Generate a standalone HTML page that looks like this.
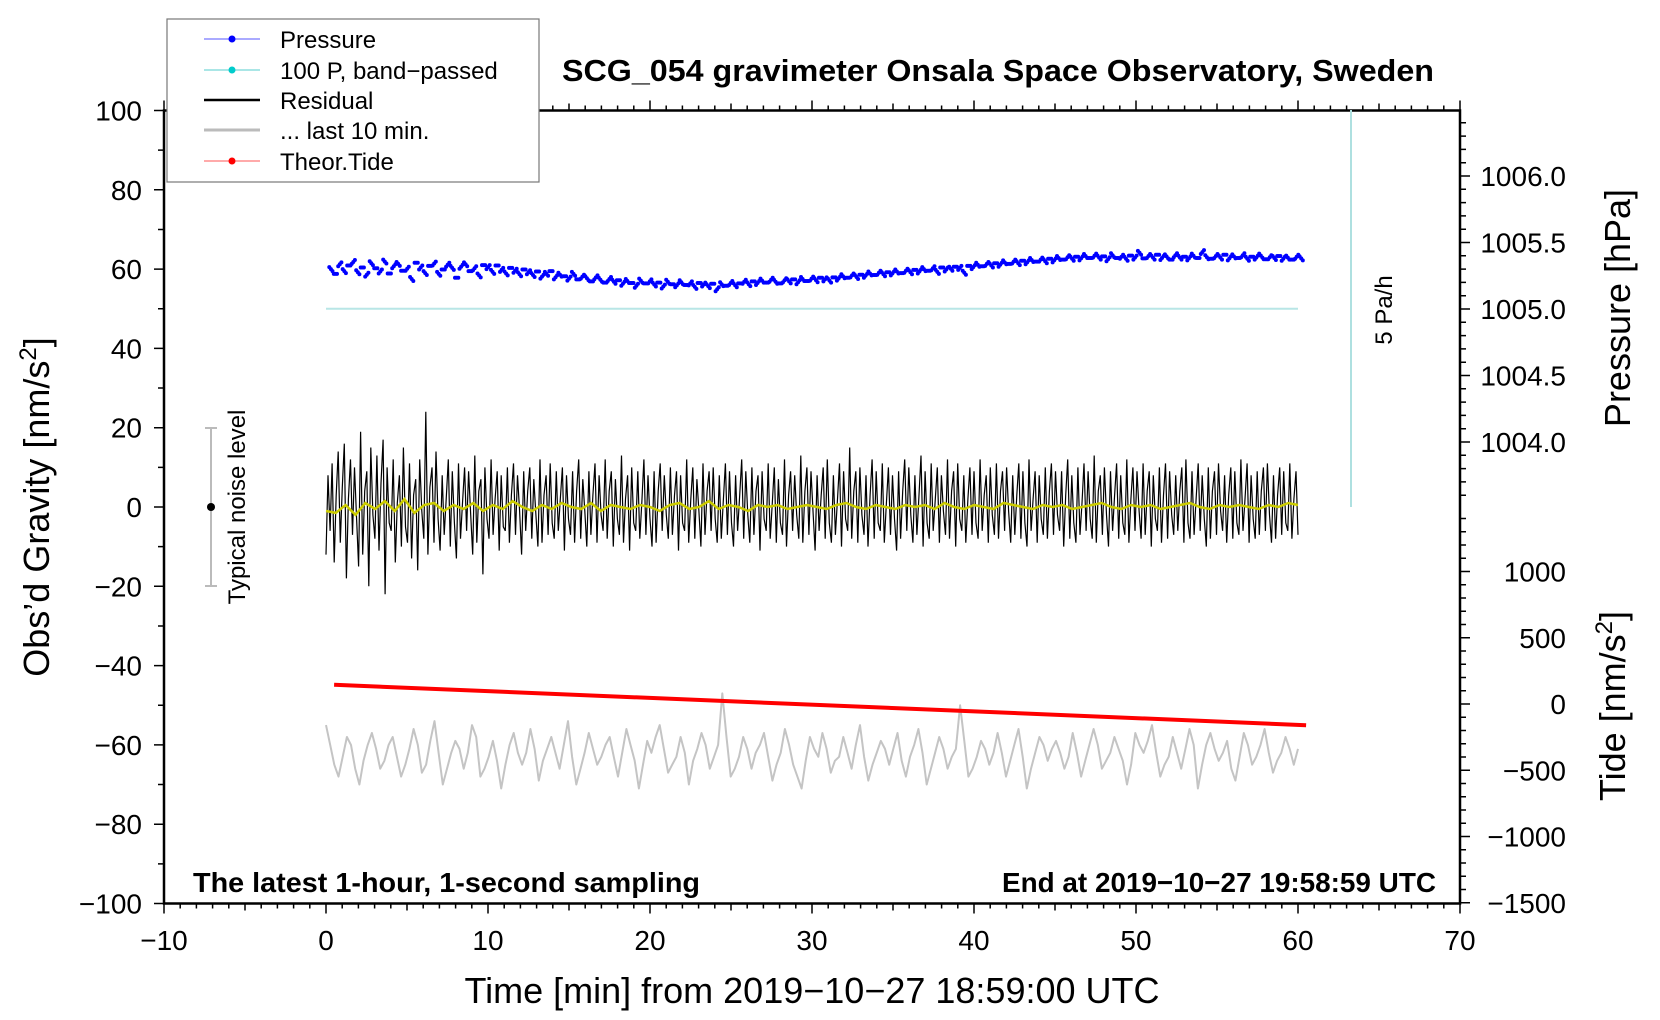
<!DOCTYPE html>
<html><head><meta charset="utf-8"><style>
html,body{margin:0;padding:0;background:#fff;}
svg{display:block;font-family:"Liberation Sans",sans-serif;}
</style></head><body>
<svg id="chart" width="1660" height="1020" viewBox="0 0 1660 1020" xmlns="http://www.w3.org/2000/svg">
<rect x="0" y="0" width="1660" height="1020" fill="#fff"/>
<g id="plot"></g>
<g id="axes"></g>
<text x="562" y="81" font-size="31" font-weight="bold" textLength="872" lengthAdjust="spacingAndGlyphs">SCG_054 gravimeter Onsala Space Observatory, Sweden</text>
<text x="193" y="892" font-size="28" font-weight="bold" textLength="507" lengthAdjust="spacingAndGlyphs">The latest 1-hour, 1-second sampling</text>
<text x="1002" y="892" font-size="28" font-weight="bold" textLength="434" lengthAdjust="spacingAndGlyphs">End at 2019−10−27 19:58:59 UTC</text>
<text x="812" y="1003" font-size="36" text-anchor="middle">Time [min] from 2019−10−27 18:59:00 UTC</text>
<text transform="translate(49,507) rotate(-90)" font-size="36" text-anchor="middle">Obs’d Gravity [nm/s<tspan dy="-13" font-size="24">2</tspan><tspan dy="13">]</tspan></text>
<text transform="translate(1630,308) rotate(-90)" font-size="36" text-anchor="middle">Pressure [hPa]</text>
<text transform="translate(1625,706) rotate(-90)" font-size="36" text-anchor="middle">Tide [nm/s<tspan dy="-13" font-size="24">2</tspan><tspan dy="13">]</tspan></text>
<g>
<line x1="211" y1="428" x2="211" y2="586" stroke="#bbb" stroke-width="2"/>
<line x1="205" y1="428" x2="217" y2="428" stroke="#bbb" stroke-width="2"/>
<line x1="205" y1="586" x2="217" y2="586" stroke="#bbb" stroke-width="2"/>
<circle cx="211" cy="507" r="4" fill="#000"/>
<text transform="translate(245,507) rotate(-90)" font-size="24" text-anchor="middle">Typical noise level</text>
</g>
<g>
<line x1="1351" y1="110" x2="1351" y2="507" stroke="#aee0e0" stroke-width="2"/>
<text transform="translate(1392,310) rotate(-90)" font-size="24" text-anchor="middle">5 Pa/h</text>
</g>
<g>
<rect x="167" y="19" width="372" height="163" fill="#fff" stroke="#777" stroke-width="1.2"/>
<line x1="204" y1="39" x2="260" y2="39" stroke="#55f" stroke-width="1"/><circle cx="232" cy="39" r="3.5" fill="#00f"/>
<text x="280" y="48" font-size="24">Pressure</text>
<line x1="204" y1="70" x2="260" y2="70" stroke="#5cc" stroke-width="1"/><circle cx="232" cy="70" r="3.5" fill="#0cc"/>
<text x="280" y="79" font-size="24">100 P, band−passed</text>
<line x1="204" y1="100" x2="260" y2="100" stroke="#000" stroke-width="2.5"/>
<text x="280" y="109" font-size="24">Residual</text>
<line x1="204" y1="130" x2="260" y2="130" stroke="#bbb" stroke-width="3"/>
<text x="280" y="139" font-size="24">... last 10 min.</text>
<line x1="204" y1="161" x2="260" y2="161" stroke="#f55" stroke-width="1"/><circle cx="232" cy="161" r="3.5" fill="#f00"/>
<text x="280" y="170" font-size="24">Theor.Tide</text>
</g>
</svg>
<script>
var residual=[-12,8,-6,11,-14,3,14,-9,5,16,-18,2,12,-7,10,-3,-15,19,-12,4,9,-20,15,-2,-8,13,-11,6,17,-22,10,-4,-6,12,-14,1,8,-10,15,-5,-9,11,-13,3,7,-16,12,-1,-8,24,-12,5,10,-9,14,-3,-11,8,-7,2,12,-10,9,-4,-13,11,-8,1,10,-6,9,-2,-12,13,-9,4,7,-17,10,-3,-8,12,-7,2,9,-11,8,-5,-6,10,-9,3,11,-7,8,-1,-12,9,-6,4,10,-8,7,-2,-10,12,-9,3,8,-7,11,-4,-8,9,-6,2,10,-11,8,-3,-7,9,-9,4,12,-8,7,-1,-10,9,-7,3,11,-9,8,-2,-6,12,-8,4,9,-10,7,-3,-7,13,-9,2,8,-11,10,-4,-6,9,-8,1,12,-7,8,-3,-10,9,-9,4,11,-6,8,-2,-8,10,-7,3,9,-11,8,-4,-6,12,-9,2,10,-8,7,-1,-10,11,-7,4,9,-6,10,-3,-9,8,-8,2,11,-7,9,-4,-10,8,-6,3,12,-8,9,-2,-9,10,-7,4,8,-11,9,-3,-6,11,-8,1,10,-9,7,-4,-7,12,-10,3,9,-6,8,-2,-8,13,-9,4,10,-7,9,-1,-11,8,-6,3,10,-8,12,-4,-9,8,-7,2,11,-10,9,-3,-6,15,-8,4,9,-9,10,-2,-7,8,-10,3,12,-8,9,-4,-6,11,-9,1,10,-7,8,-3,-11,9,-8,4,12,-6,10,-2,-9,8,-7,3,13,-10,9,-4,-8,11,-6,2,10,-9,8,-1,-7,12,-8,4,9,-10,11,-3,-6,8,-9,2,10,-7,9,-4,-8,12,-6,3,8,-9,10,-2,-7,11,-8,4,9,-6,10,-1,-9,8,-7,3,11,-8,9,-4,-10,12,-6,2,9,-9,8,-3,-7,10,-8,4,11,-7,9,-2,-6,9,-10,3,12,-8,8,-4,-9,10,-7,1,11,-6,9,-3,-8,13,-9,4,8,-7,10,-2,-10,9,-6,3,11,-8,8,-4,-7,12,-9,2,10,-6,9,-1,-8,11,-7,4,9,-10,8,-3,-6,10,-9,3,11,-8,9,-2,-7,8,-6,4,10,-9,12,-4,-8,9,-7,2,11,-6,8,-3,-10,10,-8,4,9,-7,11,-1,-6,8,-9,3,10,-8,9,-4,-7,12,-6,2,11,-9,8,-3,-8,9,-7,4,10,-6,11,-2,-9,8,-8,3,10,-7,9,-4,-6,11,-8,2,9,-7];
var smooth=[-1,-1.5,0.5,-2,1,-0.5,1.5,-1,2,-1.5,0.5,1,-1,0.5,-0.5,1,-1,0.5,-0.5,1.5,0,-1,0.5,-0.5,1,0,-0.5,1,-1,0.5,0,-0.5,0.5,0,-1,0.5,1,-0.5,0,1.5,-0.5,0.5,0,-1,0.5,0,0.5,-0.5,0,0.5,0,-0.5,0.5,1,0,-0.5,0.5,0,-0.5,0.5,0,0.5,-0.5,1,0,-0.5,0.5,0,-0.5,1,0.5,0,-0.5,0.5,0,0.5,-0.5,0,0.5,1,0,-0.5,0.5,0,0.5,-0.5,0,0.5,1,0,-0.5,0.5,0,0.5,0,-0.5,0.5,0,1,0.5];
var pressure=[60,58.8,61.2,59.5,60.9,61.8,59.2,60.4,58.6,61.5,60.2,59.4,61.9,58.9,60.7,61.3,59.6,60.1,57.5,61.6,60.4,59,60.8,61.4,58.8,59.9,61.1,60.3,57.8,60.6,61.2,59.5,60.2,58.4,61,60.5,59.3,60.9,59.8,58.9,60.3,59.6,58.7,59.9,59.2,58.5,59.4,58.1,58.8,59.5,57.9,58.6,58.2,57.6,58.8,57.4,58.1,57.7,56.9,57.9,57.3,56.6,57.5,56.8,57.2,56.3,57,56.5,55.8,57.1,56.4,56.9,56.1,56.6,55.6,56.8,56.2,55.9,56.7,56,56.4,55.5,56.5,56.1,55.7,56.3,54.9,56.2,55.8,56.5,55.9,56.4,56.8,56.2,56.9,56.5,57.1,56.6,57.3,56.8,56.4,57.2,56.9,57.4,56.7,57.5,57,57.6,57.2,57.8,57.4,57.1,57.9,57.6,58.2,57.8,58.4,58,58.6,58.3,58.9,58.5,59.1,58.7,59.2,58.9,59.4,59,59.6,59.2,59.8,59.4,60,59.6,60.2,59.3,60.4,59.9,60.1,60.6,60.3,59.1,60.8,60.5,61.1,60.7,61.3,60.9,61.5,61.1,61.7,61.3,61.9,61.5,62.1,61.7,62.3,61.9,62.4,62,62.6,62.2,62.8,62.4,63,62.6,63.1,62.7,63.3,62.8,63.4,62.9,63.2,62.5,63.5,62.8,63.1,62.6,63.4,62.9,64.1,62.7,63.3,62.9,63.6,62.8,63.2,62.4,63.5,62.9,63.1,62.7,63.4,62.8,64.3,63,62.6,63.3,62.9,63.6,62.7,63.2,62.8,63.5,62.6,63.1,62.9,63.4,62.5,63,62.8,63.3,62.6,62.9,62.4,63.1,62.7];
var gray=[-55,-60,-65,-68,-63,-58,-60,-66,-70,-64,-60,-57,-61,-66,-64,-60,-58,-63,-68,-65,-61,-56,-60,-67,-65,-59,-54,-62,-70,-66,-62,-59,-61,-66,-62,-55,-58,-68,-66,-63,-59,-64,-71,-65,-60,-57,-62,-65,-62,-56,-61,-69,-64,-61,-58,-62,-66,-60,-54,-63,-70,-66,-62,-57,-61,-65,-63,-60,-58,-63,-68,-62,-56,-60,-64,-71,-65,-59,-62,-58,-55,-61,-67,-65,-63,-58,-62,-70,-64,-61,-57,-60,-66,-63,-60,-47,-58,-68,-66,-63,-58,-61,-66,-62,-60,-57,-63,-69,-65,-62,-56,-60,-65,-68,-71,-64,-58,-61,-63,-57,-61,-67,-64,-63,-58,-62,-66,-60,-55,-63,-69,-65,-62,-59,-61,-65,-61,-57,-64,-68,-63,-60,-56,-62,-70,-66,-62,-58,-61,-66,-63,-61,-50,-59,-68,-66,-63,-59,-61,-65,-62,-57,-62,-68,-64,-60,-56,-63,-71,-66,-62,-58,-60,-64,-61,-59,-62,-66,-63,-57,-62,-68,-64,-60,-56,-60,-66,-64,-62,-58,-61,-64,-70,-65,-57,-60,-62,-59,-55,-62,-68,-65,-63,-58,-62,-66,-61,-56,-60,-71,-65,-60,-57,-61,-64,-62,-59,-66,-69,-63,-57,-60,-65,-63,-60,-56,-62,-67,-64,-62,-58,-61,-65,-61];
var tideStart=[0.5,145], tideEnd=[60.5,-160];
var xTicks=[-10,0,10,20,30,40,50,60,70];
var yTicks=[100,80,60,40,20,0,-20,-40,-60,-80,-100];
var pTicks=[1004.0,1004.5,1005.0,1005.5,1006.0];
var tTicks=[1000,500,0,-500,-1000,-1500];
var bandpass=50;

function X(t){return 326+t*16.2;}
function Y(g){return 507-g*3.965;}
function TY(v){return 704-v*0.1325;}
function PY(p){return 442-(p-1004)*133;}
var NS="http://www.w3.org/2000/svg";
function mk(tag,at,parent){var e=document.createElementNS(NS,tag);for(var k in at)e.setAttribute(k,at[k]);parent.appendChild(e);return e;}
var plot=document.getElementById('plot'),axes=document.getElementById('axes');
function pathFrom(arr,t0,t1,yf){var d='';for(var i=0;i<arr.length;i++){var t=t0+(t1-t0)*i/(arr.length-1);d+=(i?'L':'M')+X(t).toFixed(1)+' '+yf(arr[i]).toFixed(1);}return d;}

var bp=mk('line',{x1:X(0),x2:X(60),y1:Y(bandpass),y2:Y(bandpass),stroke:'#b8e6e6','stroke-width':2},plot);



var pg=mk('g',{fill:'#00f'},plot);


for(var i=0;i<pressure.length;i++){
  var t=0.3+59.9*i/(pressure.length-1);
  for(var j=-1;j<=1;j++){
    var c=mk('circle',{cx:(X(t)+j*1.6).toFixed(1),cy:Y(pressure[i]+j*0.5*((i%3)-1)).toFixed(1),r:2},pg);
    
    
  }
}

var rp=mk('path',{d:pathFrom(residual,0,60,Y),fill:'none',stroke:'#000','stroke-width':1.2},plot);


var sp=mk('path',{d:pathFrom(smooth,0,60,Y),fill:'none',stroke:'#cccc00','stroke-width':2.5},plot);


var gp=mk('path',{d:pathFrom(gray,0,60,Y),fill:'none',stroke:'#c4c4c4','stroke-width':2,'stroke-linejoin':'round'},plot);


var tl=mk('line',{x1:X(tideStart[0]),y1:TY(tideStart[1]),x2:X(tideEnd[0]),y2:TY(tideEnd[1]),stroke:'#f00','stroke-width':4},plot);



var L=X(-10),R=X(70),T=Y(100),B=Y(-100);
var fr=mk('path',{d:'M'+L+' '+T+'L'+R+' '+T+'L'+R+' '+B+'L'+L+' '+B+'Z',fill:'none',stroke:'#000','stroke-width':2.5},axes);


var tk='';
for(var m=-10;m<=70;m++){var big=m%10==0,mid=m%5==0;var len=big?10:(mid?7:5);
  tk+='M'+X(m)+' '+B+'l0 '+len+'M'+X(m)+' '+T+'l0 '+(-len);}
for(var g=-100;g<=100;g+=10){tk+='M'+L+' '+Y(g)+'l'+(g%20==0?-10:-6)+' 0';}
for(var p=1003.5;p<=1006.51;p+=0.1){var yy=PY(p);if(yy>=T&&yy<=Y(0)){var b=Math.abs(p*2-Math.round(p*2))<0.01;tk+='M'+R+' '+yy.toFixed(1)+'l'+(b?10:6)+' 0';}}
for(var v=-1500;v<=1500;v+=100){var yy=TY(v);if(yy>=Y(0)&&yy<=B){tk+='M'+R+' '+yy.toFixed(1)+'l'+(v%500==0?10:6)+' 0';}}
var tp=mk('path',{d:tk,stroke:'#000','stroke-width':1.5,fill:'none'},axes);


function lbl(x,y,s,anchor,name){var e=mk('text',{x:x,y:y,'font-size':28,'text-anchor':anchor},axes);e.textContent=s;
  
  }
function fmt(n){return n<0?'−'+Math.abs(n):''+n;}
xTicks.forEach(function(t){lbl(X(t),950,fmt(t),'middle','x-tick-label');});
yTicks.forEach(function(g){lbl(142,Y(g)+10,fmt(g),'end','y-tick-label');});
pTicks.forEach(function(p){lbl(1566,PY(p)+10,p.toFixed(1),'end','pressure-tick-label');});
tTicks.forEach(function(v){lbl(1566,TY(v)+10,fmt(v),'end','tide-tick-label');});
</script>
</body></html>
